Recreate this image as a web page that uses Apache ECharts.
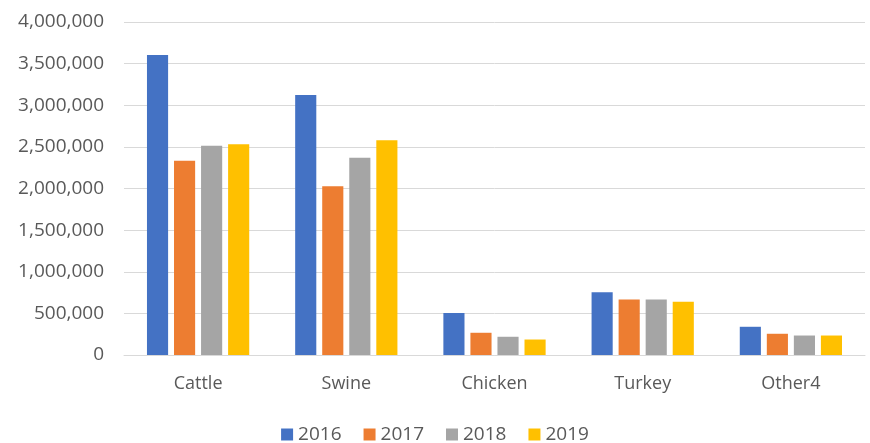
<!DOCTYPE html>
<html>
<head>
<meta charset="utf-8">
<script src="https://cdn.jsdelivr.net/npm/echarts@6/dist/echarts.min.js"></script>
<style>
  html, body { margin: 0; padding: 0; background: #fff; }
  #main { width: 870px; height: 443px; }
</style>
</head>
<body>
<div id="main"></div>
<script>
// 数据
var categories = ['Cattle', 'Swine', 'Chicken', 'Turkey', 'Other4']
var years = ['2016', '2017', '2018', '2019']
var data2016 = [3604000, 3123000, 505000, 754000, 339000]
var data2017 = [2334000, 2026000, 267000, 667000, 255000]
var data2018 = [2514000, 2370000, 219000, 667000, 234000]
var data2019 = [2531000, 2579000, 186000, 639000, 234000]
var colors = ['#4472C4', '#ED7D31', '#A5A5A5', '#FFC000']

var seriesData = [data2016, data2017, data2018, data2019]
var series = []
for (var i = 0; i < years.length; i++) {
  series.push({
    name: years[i],
    type: 'bar',
    data: seriesData[i],
    itemStyle: { color: colors[i] },
    barGap: '28%',
    barCategoryGap: '31%'
  })
}

var myChart = echarts.init(document.getElementById('main'))
myChart.setOption({
  animation: false,
  textStyle: { fontFamily: 'Open Sans' },
  grid: { left: 124, right: 5, top: 22, bottom: 88 },
  legend: {
    data: years,
    bottom: -6,
    left: 'center',
    itemWidth: 12,
    itemHeight: 12,
    itemGap: 22,
    icon: 'rect',
    textStyle: { color: '#595959', fontSize: 19 }
  },
  xAxis: {
    type: 'category',
    data: categories,
    axisLine: { lineStyle: { color: '#D9D9D9' } },
    axisTick: { show: false },
    axisLabel: { color: '#595959', fontSize: 18, margin: 20 }
  },
  yAxis: {
    type: 'value',
    min: 0,
    max: 4000000,
    interval: 500000,
    axisLine: { show: false },
    axisTick: { show: false },
    splitLine: { lineStyle: { color: '#D9D9D9', width: 1 } },
    axisLabel: {
      color: '#595959',
      fontSize: 19,
      margin: 20,
      formatter: function (v) { return v.toLocaleString('en-US') }
    }
  },
  series: series
})
</script>
</body>
</html>
